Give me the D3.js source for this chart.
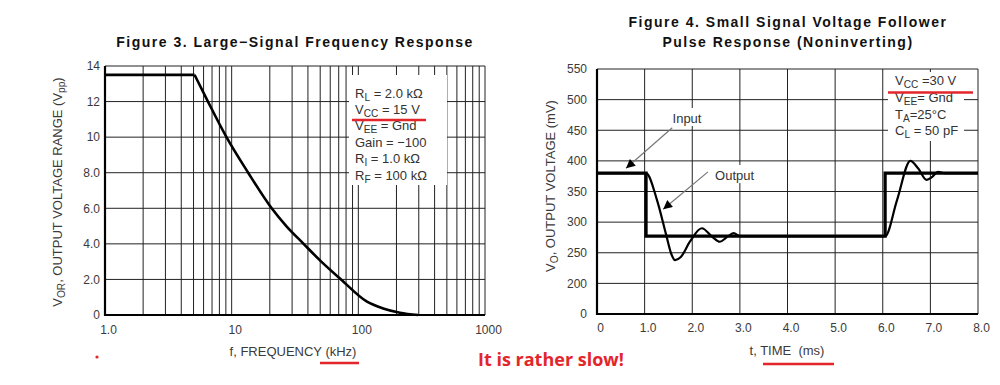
<!DOCTYPE html>
<html>
<head>
<meta charset="utf-8">
<script src="https://cdn.jsdelivr.net/npm/d3@7"></script>
<style>
  body { margin: 0; background: #fff; }
  svg { display: block; font-family: "Liberation Sans", Arial, sans-serif; }
  .tick text { font-size: 12px; fill: #3a3a3a; }
  .title { font-size: 14px; font-weight: bold; letter-spacing: 1.5px; fill: #111; }
  .label { font-size: 13px; fill: #3a3a3a; }
  .note { font-size: 13px; fill: #333; }
</style>
</head>
<body>
<div class="main"></div>
<script>
////Data - Figure 3
const freqTicks = [1, 10, 100, 1000];
const freqTickLabels = ['1.0', '10', '100', '1000'];
const vorTicks = [0, 2, 4, 6, 8, 10, 12, 14];
const vorTickLabels = ['0', '2.0', '4.0', '6.0', '8.0', '10', '12', '14'];
const responseFreq = [1, 5.1, 6.5, 9.1, 13.5, 20.7, 27, 37, 51, 73, 117, 157, 213, 296];
const responseVpp = [13.5, 13.5, 12, 10, 8, 6, 5, 4, 3, 2, 0.75, 0.37, 0.13, 0];
const leftNotes = [['R', 'L', ' = 2.0 kΩ'], ['V', 'CC', ' = 15 V'], ['V', 'EE', ' = Gnd'],
  ['Gain = −100', '', ''], ['R', 'I', ' = 1.0 kΩ'], ['R', 'F', ' = 100 kΩ']];

////Data - Figure 4
const timeTicks = [0, 1, 2, 3, 4, 5, 6, 7, 8];
const timeTickLabels = ['0', '1.0', '2.0', '3.0', '4.0', '5.0', '6.0', '7.0', '8.0'];
const voltTicks = [150, 200, 250, 300, 350, 400, 450, 500, 550];
const voltTickLabels = ['0', '200', '250', '300', '350', '400', '450', '500', '550'];
const inputTime = [0, 1.03, 1.03, 6.05, 6.05, 8];
const inputMv = [380, 380, 277, 277, 380, 380];
const outputTime = [0, 1.03, 1.26, 1.45, 1.56, 1.64, 1.76, 1.95, 2.2, 2.42, 2.58, 2.72, 2.87, 3.0,
  6.05, 6.3, 6.58, 6.75, 6.92, 7.04, 7.16, 7.3, 8];
const outputMv = [380, 380, 336, 280, 248, 238, 243, 268, 290, 276, 268, 275, 282, 277,
  277, 336, 400, 387, 369, 374, 382, 380, 380];
const rightNotes = [['V', 'CC', ' =30 V'], ['V', 'EE', '= Gnd'], ['T', 'A', '=25°C'], ['C', 'L', ' = 50 pF']];

////Global Variables
const width = 1000;
const height = 385;
const red = '#e3262b';
const svg = d3.select('.main').append('svg')
  .attr('width', width)
  .attr('height', height);

svg.append('defs').append('marker')
  .attr('id', 'arrow')
  .attr('viewBox', '0 0 10 10')
  .attr('refX', 10).attr('refY', 5)
  .attr('markerWidth', 14).attr('markerHeight', 9)
  .attr('markerUnits', 'userSpaceOnUse')
  .attr('orient', 'auto')
  .append('path').attr('d', 'M0,0L10,5L0,10z').attr('fill', '#000');

////text with a subscript part
function subText(sel, parts) {
  sel.append('tspan').text(parts[0]);
  if (parts[1]) sel.append('tspan').attr('dy', 3).attr('font-size', '0.78em').text(parts[1]);
  if (parts[2]) sel.append('tspan').attr('dy', parts[1] ? -3 : 0).text(parts[2]);
  return sel;
}

function gridLines(g, xs, ys, xScale, yScale) {
  g.selectAll(null).data(xs).enter().append('line')
    .attr('x1', d => xScale(d)).attr('x2', d => xScale(d))
    .attr('y1', yScale.range()[0]).attr('y2', yScale.range()[1])
    .attr('stroke', '#222').attr('stroke-width', 1);
  g.selectAll(null).data(ys).enter().append('line')
    .attr('y1', d => yScale(d)).attr('y2', d => yScale(d))
    .attr('x1', xScale.range()[0]).attr('x2', xScale.range()[1])
    .attr('stroke', '#222').attr('stroke-width', 1);
}

////Figure 3
function drawLeft() {
  const xScale = d3.scaleLog().domain([1, 1000]).range([105, 485]);
  const yScale = d3.scaleLinear().domain([0, 14]).range([315, 66]);
  const g = svg.append('g');

  const logGrid = d3.range(0, 3).flatMap(k => d3.range(1, 10).map(m => m * Math.pow(10, k))).concat([1000]);
  gridLines(g, logGrid, vorTicks, xScale, yScale);

  // notes box
  g.append('rect').attr('x', 349).attr('y', 75).attr('width', 98).attr('height', 110).attr('fill', '#fff');
  leftNotes.forEach((n, i) => {
    subText(g.append('text').attr('class', 'note').attr('x', 355).attr('y', 97.5 + i * 16.4), n);
  });
  g.append('line').attr('x1', 352).attr('x2', 426).attr('y1', 120).attr('y2', 120)
    .attr('stroke', red).attr('stroke-width', 2.5);

  // axes lines
  g.append('line').attr('x1', 105).attr('x2', 105).attr('y1', 66).attr('y2', 316).attr('stroke', '#000').attr('stroke-width', 2.2);
  g.append('line').attr('x1', 104).attr('x2', 485).attr('y1', 315).attr('y2', 315).attr('stroke', '#000').attr('stroke-width', 2.2);

  const line = d3.line().x(d => xScale(d[0])).y(d => yScale(d[1]));
  const pts = responseFreq.map((f, i) => [f, responseVpp[i]]);
  g.append('path').attr('d', line.curve(d3.curveLinear)(pts.slice(0, 2)))
    .attr('fill', 'none').attr('stroke', '#000').attr('stroke-width', 2.6);
  g.append('path').attr('d', line.curve(d3.curveMonotoneX)(pts.slice(1)))
    .attr('fill', 'none').attr('stroke', '#000').attr('stroke-width', 2.6);

  const xAxis = d3.axisBottom(xScale).tickValues(freqTicks)
    .tickFormat((d, i) => freqTickLabels[i]).tickSize(0).tickPadding(10);
  const yAxis = d3.axisLeft(yScale).tickValues(vorTicks)
    .tickFormat((d, i) => vorTickLabels[i]).tickSize(0).tickPadding(5);
  const xa = svg.append('g').attr('transform', 'translate(0, 315)').call(xAxis);
  xa.select('.domain').remove();
  xa.selectAll('text').attr('dx', 3);
  const ya = svg.append('g').attr('transform', 'translate(105, 0)').call(yAxis);
  ya.select('.domain').remove();

  svg.append('text').attr('class', 'title').attr('x', 295).attr('y', 47)
    .attr('text-anchor', 'middle').text('Figure 3. Large−Signal Frequency Response');

  const yLabel = subText(svg.append('text').attr('class', 'label').attr('text-anchor', 'middle')
    .attr('transform', 'translate(62, 192) rotate(-90)'), ['V', 'OR', ', OUTPUT VOLTAGE RANGE (V']);
  yLabel.append('tspan').attr('dy', 3).attr('font-size', '0.78em').text('pp');
  yLabel.append('tspan').attr('dy', -3).text(')');

  svg.append('text').attr('class', 'label').attr('x', 293).attr('y', 356)
    .attr('text-anchor', 'middle').attr('font-size', '12px').text('f, FREQUENCY (kHz)');
  svg.append('line').attr('x1', 320).attr('x2', 359).attr('y1', 363).attr('y2', 363)
    .attr('stroke', red).attr('stroke-width', 2.5);
  svg.append('circle').attr('cx', 97).attr('cy', 357).attr('r', 1.6).attr('fill', red);
}

////Figure 4
function drawRight() {
  const xScale = d3.scaleLinear().domain([0, 8]).range([597, 978]);
  const yScale = d3.scaleLinear().domain([150, 550]).range([314, 69]);
  const g = svg.append('g');

  gridLines(g, timeTicks, voltTicks, xScale, yScale);

  g.append('rect').attr('x', 888).attr('y', 72).attr('width', 76).attr('height', 69).attr('fill', '#fff');
  rightNotes.forEach((n, i) => {
    subText(g.append('text').attr('class', 'note').attr('x', 895).attr('y', 85 + i * 16.8), n);
  });
  g.append('line').attr('x1', 888).attr('x2', 973).attr('y1', 92.5).attr('y2', 92.5)
    .attr('stroke', red).attr('stroke-width', 2.5);

  g.append('line').attr('x1', 597).attr('x2', 597).attr('y1', 69).attr('y2', 315).attr('stroke', '#000').attr('stroke-width', 2.2);
  g.append('line').attr('x1', 596).attr('x2', 978).attr('y1', 314).attr('y2', 314).attr('stroke', '#000').attr('stroke-width', 2.2);

  const line = d3.line().x(d => xScale(d[0])).y(d => yScale(d[1]));
  g.append('path').attr('d', line(inputTime.map((t, i) => [t, inputMv[i]])))
    .attr('fill', 'none').attr('stroke', '#000').attr('stroke-width', 3.2);
  g.append('path').attr('d', line.curve(d3.curveMonotoneX)(outputTime.map((t, i) => [t, outputMv[i]])))
    .attr('fill', 'none').attr('stroke', '#000').attr('stroke-width', 2.2);

  // call-outs
  const callouts = [
    { text: 'Input', lx: 1.89, ly: 470, anchor: 'middle', from: [1.58, 454], to: [0.61, 388] },
    { text: 'Output', lx: 2.48, ly: 377, anchor: 'start', from: [2.33, 382], to: [1.39, 321] }
  ];
  callouts.forEach(c => {
    g.append('line')
      .attr('x1', xScale(c.from[0])).attr('y1', yScale(c.from[1]))
      .attr('x2', xScale(c.to[0])).attr('y2', yScale(c.to[1]))
      .attr('stroke', '#777').attr('stroke-width', 1.2).attr('marker-end', 'url(#arrow)');
    g.append('rect').attr('x', xScale(c.lx) - (c.anchor === 'middle' ? 17 : 2)).attr('y', yScale(c.ly) - 10)
      .attr('width', c.anchor === 'middle' ? 34 : 44).attr('height', 18).attr('fill', '#fff');
    g.append('text').attr('class', 'note').attr('x', xScale(c.lx)).attr('y', yScale(c.ly) + 5)
      .attr('text-anchor', c.anchor).text(c.text);
  });

  const xAxis = d3.axisBottom(xScale).tickValues(timeTicks)
    .tickFormat((d, i) => timeTickLabels[i]).tickSize(0).tickPadding(9);
  const yAxis = d3.axisLeft(yScale).tickValues(voltTicks)
    .tickFormat((d, i) => voltTickLabels[i]).tickSize(0).tickPadding(10);
  const xa = svg.append('g').attr('transform', 'translate(0, 314)').call(xAxis);
  xa.select('.domain').remove();
  xa.selectAll('text').attr('dx', 3);
  const ya = svg.append('g').attr('transform', 'translate(597, 0)').call(yAxis);
  ya.select('.domain').remove();

  svg.append('text').attr('class', 'title').attr('x', 788).attr('y', 27)
    .attr('text-anchor', 'middle').text('Figure 4. Small Signal Voltage Follower');
  svg.append('text').attr('class', 'title').attr('x', 788).attr('y', 47)
    .attr('text-anchor', 'middle').text('Pulse Response (Noninverting)');

  subText(svg.append('text').attr('class', 'label').attr('text-anchor', 'middle')
    .attr('transform', 'translate(555, 186) rotate(-90)'), ['V', 'O', ', OUTPUT VOLTAGE (mV)']);

  svg.append('text').attr('class', 'label').attr('x', 787).attr('y', 355)
    .attr('text-anchor', 'middle').attr('font-size', '12px').attr('xml:space', 'preserve').text('t, TIME  (ms)');
  svg.append('line').attr('x1', 763).attr('x2', 834).attr('y1', 364).attr('y2', 364)
    .attr('stroke', red).attr('stroke-width', 2.5);
}

drawLeft();
drawRight();

svg.append('text').attr('x', 478).attr('y', 366)
  .attr('font-family', '"Open Sans", sans-serif').attr('font-weight', 'bold').attr('font-size', '18px')
  .attr('fill', red).text('It is rather slow!');
</script>
</body>
</html>
